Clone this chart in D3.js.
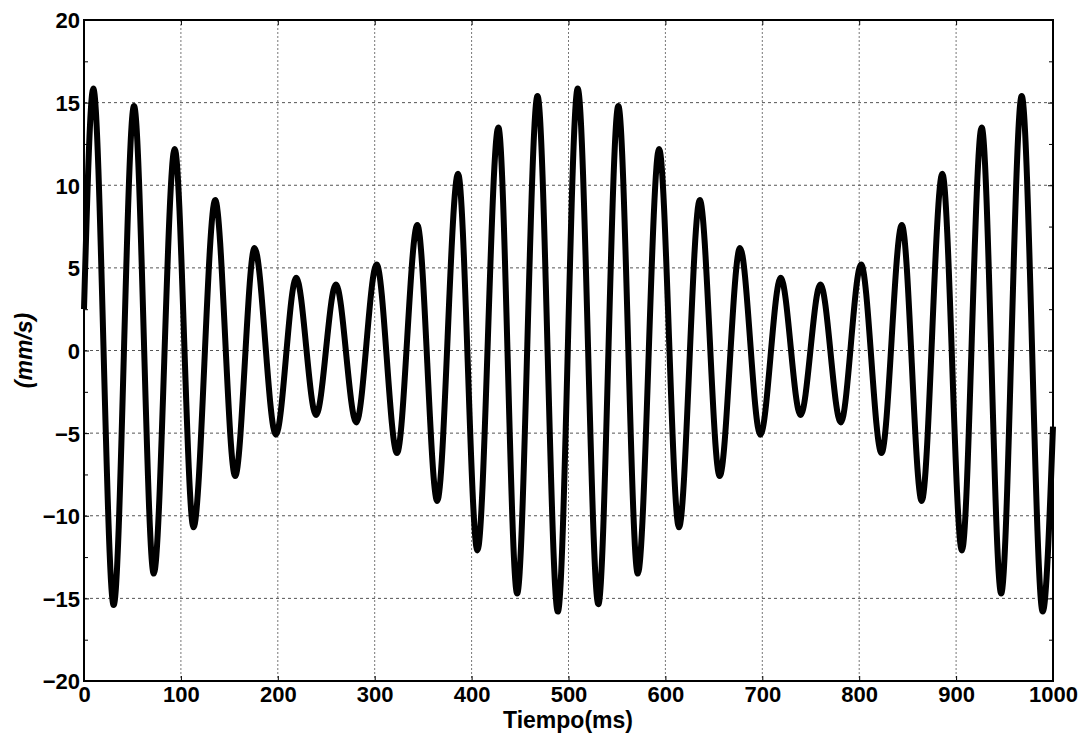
<!DOCTYPE html>
<html>
<head>
<meta charset="utf-8">
<script src="https://cdn.jsdelivr.net/npm/d3@7"></script>
<style>
  html, body { margin: 0; padding: 0; background: #fff; }
  svg { display: block; }
</style>
</head>
<body>
<svg id="chart" width="1085" height="733"></svg>
<script>
// ---- data ----
const timeMs = [
  0, 9.6, 30.6, 51.6, 72, 93.6, 113, 135.4, 156, 176,
  198, 219, 239.5, 260, 281, 302, 323, 344, 364.5, 386,
  406, 427.6, 447, 468, 489, 509.5, 530.8, 551.4, 571.5, 593.5,
  614, 635.5, 656, 677, 698, 719, 739.5, 760, 781, 802,
  823, 844, 864.5, 885.8, 906, 926.4, 946.5, 967.7, 989.4, 1000
];
const velocity = [
  2.5, 15.85, -15.4, 14.8, -13.5, 12.2, -10.7, 9.1, -7.6, 6.2,
  -5.1, 4.4, -3.9, 4.0, -4.35, 5.2, -6.2, 7.6, -9.1, 10.7,
  -12.1, 13.5, -14.7, 15.4, -15.8, 15.85, -15.35, 14.8, -13.5, 12.2,
  -10.7, 9.1, -7.6, 6.2, -5.1, 4.4, -3.9, 4.0, -4.35, 5.2,
  -6.2, 7.6, -9.1, 10.7, -12.1, 13.5, -14.7, 15.4, -15.8, -4.6
];
const xTicks = [0, 100, 200, 300, 400, 500, 600, 700, 800, 900, 1000];
const yTicks = [-20, -15, -10, -5, 0, 5, 10, 15, 20];
const yMinorTicks = [-17.5, -12.5, -7.5, -2.5, 2.5, 7.5, 12.5, 17.5];
const xLabel = "Tiempo(ms)";
const yLabel = "(mm/s)";

// ---- layout ----
const W = 1085, H = 733;
const m = { left: 84, top: 20, right: 32, bottom: 52 };
const iw = W - m.left - m.right, ih = H - m.top - m.bottom;

const svg = d3.select("#chart");
const g = svg.append("g").attr("transform", `translate(${m.left},${m.top})`);

const x = d3.scaleLinear().domain([0, 1000]).range([0, iw]);
const y = d3.scaleLinear().domain([-20, 20]).range([ih, 0]);

// grid
g.append("g").selectAll("line").data(xTicks.slice(1, -1)).join("line")
  .attr("x1", d => x(d)).attr("x2", d => x(d)).attr("y1", 0).attr("y2", ih)
  .attr("stroke", "#777").attr("stroke-width", 1).attr("stroke-dasharray", "2,2");
g.append("g").selectAll("line").data(yTicks.slice(1, -1)).join("line")
  .attr("x1", 0).attr("x2", iw).attr("y1", d => y(d)).attr("y2", d => y(d))
  .attr("stroke", "#555").attr("stroke-width", 1).attr("stroke-dasharray", "3,3");

// axes with inward ticks
const fontDigits = "'Liberation Sans', Arial, sans-serif";
const xAxis = g.append("g").attr("transform", `translate(0,${ih})`)
  .call(d3.axisBottom(x).tickValues(xTicks).tickSize(-5).tickPadding(5).tickFormat(d3.format("d")));
const yAxis = g.append("g")
  .call(d3.axisLeft(y).tickValues(yTicks).tickSize(-5).tickPadding(4).tickFormat(d3.format("d")));
g.append("g").call(d3.axisLeft(y).tickValues(yMinorTicks).tickSize(-4).tickFormat(""));
g.append("g").attr("transform", `translate(${iw},0)`)
  .call(d3.axisRight(y).tickValues(yTicks).tickSize(-5).tickFormat(""));
g.append("g").attr("transform", `translate(${iw},0)`)
  .call(d3.axisRight(y).tickValues(yMinorTicks).tickSize(-4).tickFormat(""));
g.append("g")
  .call(d3.axisTop(x).tickValues(xTicks).tickSize(-5).tickFormat(""));

g.selectAll(".domain").remove();
g.selectAll(".tick line").attr("stroke", "#000").attr("stroke-width", 1);
g.selectAll(".tick text")
  .attr("font-family", fontDigits).attr("font-size", 22).attr("font-weight", "bold").attr("fill", "#000");
xAxis.selectAll(".tick text").attr("dy", "0.71em");
yAxis.selectAll(".tick text").attr("dy", "0.36em");

// curve
const pts = timeMs.map((t, i) => [t, velocity[i]]);
g.append("path").datum(pts)
  .attr("fill", "none").attr("stroke", "#000").attr("stroke-width", 6)
  .attr("stroke-linejoin", "round")
  .attr("d", d3.line().x(d => x(d[0])).y(d => y(d[1])).curve(d3.curveMonotoneX));

// frame
g.append("rect").attr("x", 0).attr("y", 0).attr("width", iw).attr("height", ih)
  .attr("fill", "none").attr("stroke", "#000").attr("stroke-width", 2);

// labels
svg.append("text").attr("x", 568).attr("y", 727.5)
  .attr("text-anchor", "middle").attr("font-family", fontDigits)
  .attr("font-size", 23).attr("font-weight", "bold").attr("fill", "#000").text(xLabel);
svg.append("text").attr("transform", `translate(32,${m.top + ih / 2}) rotate(-90)`)
  .attr("text-anchor", "middle").attr("font-family", fontDigits)
  .attr("font-size", 23).attr("font-weight", "bold").attr("font-style", "italic").attr("fill", "#000").text(yLabel);
</script>
</body>
</html>
